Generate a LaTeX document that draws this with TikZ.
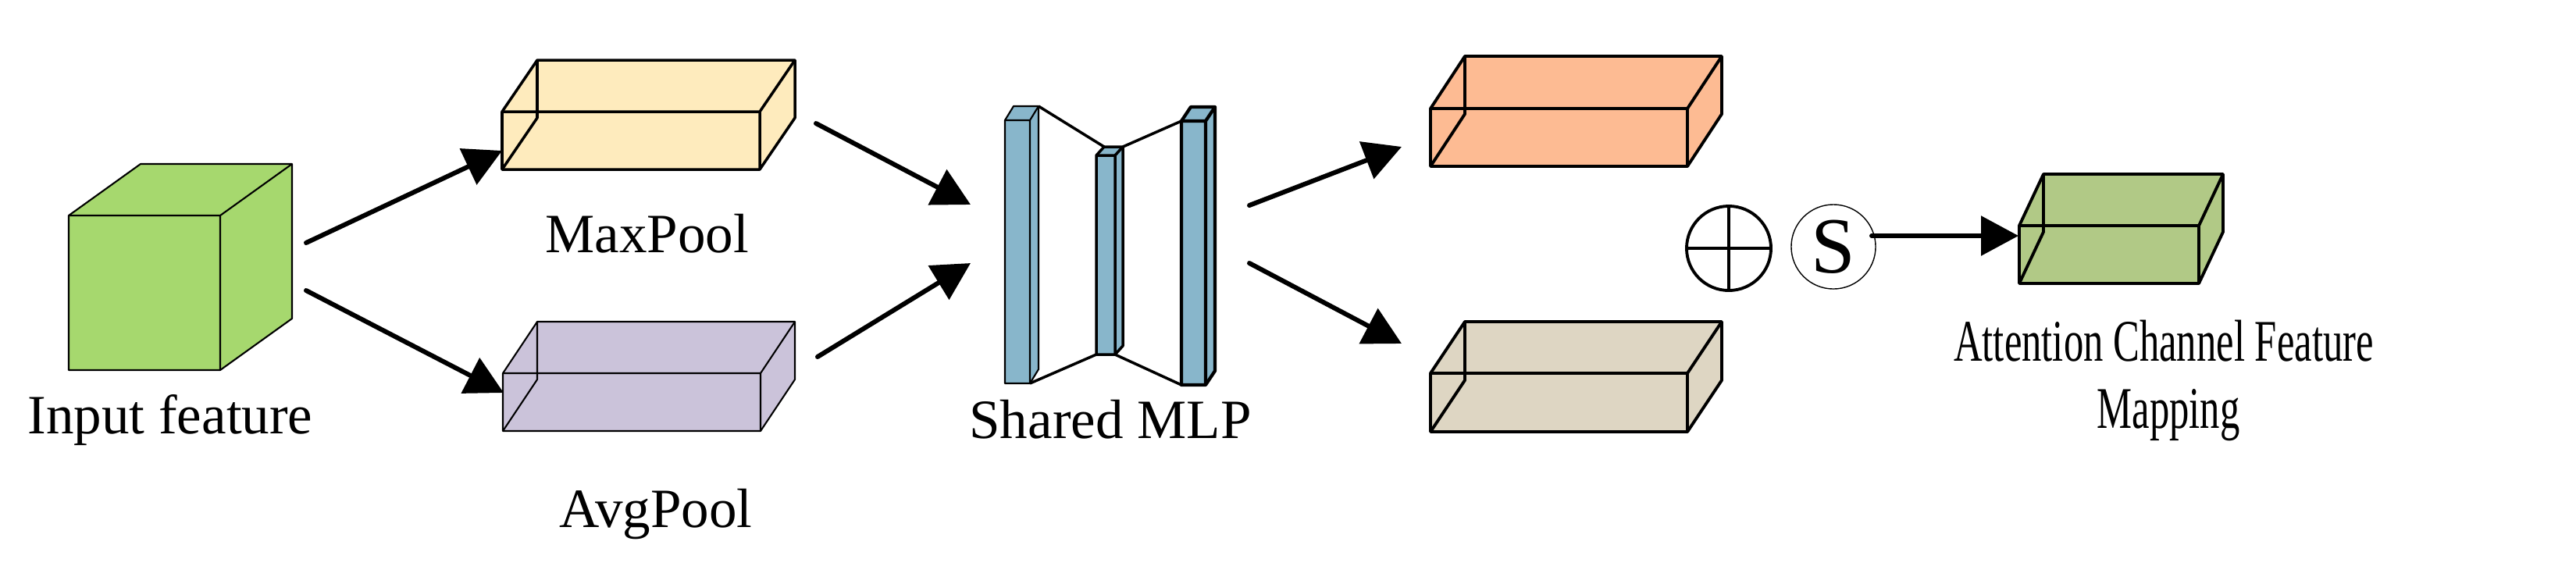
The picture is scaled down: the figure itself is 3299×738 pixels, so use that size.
\documentclass[tikz,border=0pt]{standalone}
\usepackage{fontspec}
\setmainfont{Liberation Serif}
\usepackage{tikz}
\usetikzlibrary{calc}
\usetikzlibrary{arrows.meta}

\definecolor{cubegreen}{HTML}{A6D86E}
\definecolor{maxyellow}{HTML}{FEEBBD}
\definecolor{avglilac}{HTML}{CBC3DA}
\definecolor{mlpblue}{HTML}{88B6CB}
\definecolor{maxorange}{HTML}{FDBB93}
\definecolor{avgbeige}{HTML}{DED6C3}
\definecolor{outgreen}{HTML}{B1C986}

% #1 name, (#2,#3) front top left, #4 width, #5 height, (#6,#7) depth, #8 fill, #9 line width
\newcommand{\featbox}[9]{%
    \coordinate (#1-ftl) at (#2,#3);
    \coordinate (#1-ftr) at ($(#1-ftl)+(#4,0)$);
    \coordinate (#1-fbl) at ($(#1-ftl)+(0,#5)$);
    \coordinate (#1-fbr) at ($(#1-ftl)+(#4,#5)$);
    \coordinate (#1-btl) at ($(#1-ftl)+(#6,#7)$);
    \coordinate (#1-btr) at ($(#1-ftr)+(#6,#7)$);
    \coordinate (#1-bbl) at ($(#1-fbl)+(#6,#7)$);
    \coordinate (#1-bbr) at ($(#1-fbr)+(#6,#7)$);
    \draw[line width=#9,fill=#8] (#1-ftl) -- (#1-btl) -- (#1-btr) -- (#1-bbr) -- (#1-fbr) -- (#1-fbl) -- cycle;
    \draw[line width=#9] (#1-ftl) -- (#1-ftr) -- (#1-fbr) (#1-ftr) -- (#1-btr);
}

\begin{document}
\begin{tikzpicture}[x=0.01cm,y=-0.01cm,line join=round,
    lbl/.style={font=\fontsize{20.2}{24}\selectfont,inner sep=0pt,anchor=base},
    flow/.style={line width=1.7pt,line cap=round,-{Triangle[length=0.48cm,width=0.5cm]}}]
    \useasboundingbox (0,0) rectangle (3299,738);

    % Input cube
    \featbox{in}{88}{276}{194}{198}{92}{-66}{cubegreen}{0.6pt}
    \node[lbl] (lbl-in) at (218,555) {Input feature};

    % Pooled features (see-through boxes)
    \featbox{mp}{643}{143}{330}{74}{45}{-66}{maxyellow}{1pt}
    \draw[line width=1pt] (mp-btl) -- (mp-bbl) -- (mp-fbl);
    \node[lbl] (lbl-mp) at (829,323) {MaxPool};

    \featbox{ap}{644}{478}{330}{74}{44}{-66}{avglilac}{0.6pt}
    \draw[line width=0.6pt] (ap-btl) -- (ap-bbl) -- (ap-fbl);
    \node[lbl] (lbl-ap) at (840,675) {AvgPool};

    % Shared MLP
    \featbox{s1}{1287}{154}{32}{337}{11}{-18}{mlpblue}{0.6pt}
    \featbox{s2}{1404}{199}{24}{255}{10}{-11}{mlpblue}{1pt}
    \featbox{s3}{1513}{155}{31}{338}{12}{-18}{mlpblue}{1.2pt}
    \draw[line width=1pt] (s1-btr) -- (s2-btl);
    \draw[line width=1pt] (s1-fbr) -- (s2-fbl);
    \draw[line width=1pt] (s2-btr) -- (s3-ftl);
    \draw[line width=1pt] (s2-fbr) -- (s3-fbl);
    \node[lbl] (lbl-mlp) at (1422,561) {Shared MLP};

    % MLP outputs
    \featbox{mx}{1832}{139}{329}{74}{44}{-67}{maxorange}{1.1pt}
    \draw[line width=1.1pt] (mx-btl) -- (mx-bbl) -- (mx-fbl);
    \featbox{av}{1832}{478}{329}{75}{44}{-66}{avgbeige}{1.1pt}
    \draw[line width=1.1pt] (av-btl) -- (av-bbl) -- (av-fbl);

    % Sum and sigmoid
    \node[circle,draw,line width=1.1pt,minimum size=1.08cm,inner sep=0pt] (add) at (2214,318) {};
    \draw[line width=1.1pt] (add.north) -- (add.south) (add.west) -- (add.east);
    \node[circle,draw,line width=0.4pt,minimum size=1.08cm,inner sep=0pt,
          font=\fontsize{29}{30}\selectfont] (sig) at (2348,316) {S};

    % Output
    \featbox{out}{2586}{289}{230}{74}{31}{-66}{outgreen}{1.1pt}
    \draw[line width=1.1pt] (out-btl) -- (out-bbl) -- (out-fbl);
    \node[lbl,font=\fontsize{21.5}{24}\selectfont,xscale=0.67] (lbl-att) at (2771,462) {Attention Channel Feature};
    \node[lbl,font=\fontsize{21.5}{24}\selectfont,xscale=0.67] (lbl-map) at (2777,548) {Mapping};

    % Arrow ends
    \coordinate (in-up) at (392,311);
    \coordinate (in-dn) at (392,372);
    \coordinate (mp-in) at (643,193);
    \coordinate (ap-in) at (645,503);
    \coordinate (mp-out) at (1045,158);
    \coordinate (ap-out) at (1047,457);
    \coordinate (s1-up) at (1243,262);
    \coordinate (s1-dn) at (1243,337);
    \coordinate (s3-up) at (1600,263);
    \coordinate (s3-dn) at (1600,337);
    \coordinate (mx-in) at (1795,188);
    \coordinate (av-in) at (1795,440);
    \coordinate (sig-out) at (2397,302);
    \coordinate (out-in) at (2585,302);

    % Arrows
    \draw[flow] (in-up) -- (mp-in);
    \draw[flow] (in-dn) -- (ap-in);
    \draw[flow] (mp-out) -- (s1-up);
    \draw[flow] (ap-out) -- (s1-dn);
    \draw[flow] (s3-up) -- (mx-in);
    \draw[flow] (s3-dn) -- (av-in);
    \draw[flow] (sig-out) -- (out-in);
\end{tikzpicture}
\end{document}
